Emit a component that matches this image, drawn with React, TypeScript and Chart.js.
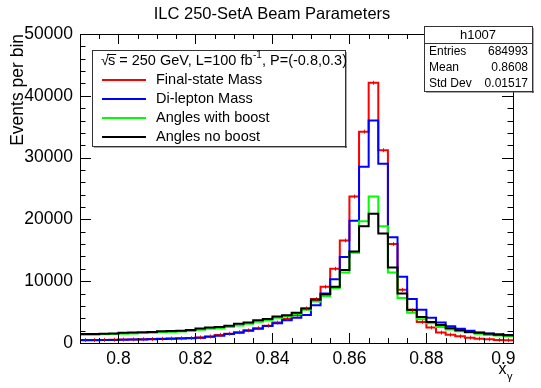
import { useEffect, useRef } from "react";
import { Chart, registerables } from "chart.js";
Chart.register(...registerables);

const FONT = '"Liberation Sans", Arial, Helvetica, sans-serif';

// histogram binning (45 bins of 0.0025 starting at 0.79)
const binLow = 0.79;
const binWidth = 0.0025;

// series values (events per bin)
const finalStateMass = [
  480, 480, 500, 520, 550, 580, 610, 640, 680, 720, 760, 800,
  900, 1050, 1300, 1500, 1750, 2050, 2400, 2800, 3300, 3900, 4500, 5600,
  7100, 9100, 12000, 16600, 23700, 34200, 42100, 31200, 16000, 8600, 5300, 3400,
  2500, 1700, 1350, 1080, 860, 700, 600, 500, 450,
];
const diLeptonMass = [
  450, 450, 470, 490, 520, 550, 580, 610, 650, 690, 720, 750,
  860, 1000, 1180, 1450, 1670, 2000, 2300, 2740, 3200, 3700, 4100, 4550,
  6100, 8000, 10300, 13900, 19800, 28500, 36000, 29000, 17100, 10700, 7100, 5400,
  4100, 3300, 2700, 2300, 2000, 1700, 1550, 1400, 1300,
];
const anglesWithBoost = [
  1350, 1350, 1400, 1450, 1500, 1550, 1600, 1650, 1750, 1800, 1850, 1950,
  2150, 2300, 2400, 2600, 2850, 3100, 3450, 3700, 4100, 4300, 4700, 5400,
  6700, 7600, 8900, 11400, 14600, 19700, 23700, 18900, 11400, 7300, 4900, 3850,
  3200, 2600, 2200, 1900, 1700, 1500, 1300, 1200, 1100,
];
const anglesNoBoost = [
  1450, 1450, 1500, 1550, 1650, 1700, 1750, 1800, 1900, 1950, 2000, 2100,
  2350, 2500, 2600, 2800, 3100, 3300, 3700, 3900, 4300, 4500, 4900, 5600,
  7000, 7900, 9100, 11800, 14800, 18900, 20900, 17700, 12200, 8000, 5400, 4200,
  3400, 2900, 2400, 2050, 1800, 1650, 1500, 1350, 1250,
];

const seriesLabels = ["Final-state Mass", "Di-lepton Mass", "Angles with boost", "Angles no boost"];
const seriesColors = ["#ff0000", "#0000ff", "#00ff00", "#000000"];

const xTickValues = [0.8, 0.82, 0.84, 0.86, 0.88, 0.9];
const yTickValues = [0, 10000, 20000, 30000, 40000, 50000];
const xMinorStep = 0.005;
const yMinorStep = 2000;

const titleText = "ILC 250-SetA Beam Parameters";
const yTitle = "Events per bin";
const statsName = "h1007";
const statsRows: [string, string][] = [
  ["Entries", "684993"],
  ["Mean", "0.8608"],
  ["Std Dev", "0.01517"],
];

const nBins = finalStateMass.length;
const xMax = binLow + nBins * binWidth;

function toPoints(values: number[]) {
  const pts = values.map((v, i) => ({ x: binLow + i * binWidth, y: v }));
  pts.push({ x: xMax, y: values[values.length - 1] });
  return pts;
}

const decorPlugin = {
  id: "rootDecor",
  afterDatasetsDraw(chart: any) {
    const ctx = chart.ctx as CanvasRenderingContext2D;
    const xs = chart.scales.x;
    const ys = chart.scales.y;
    // small error marks on the first series
    ctx.save();
    ctx.strokeStyle = "rgba(200,0,0,0.8)";
    ctx.lineWidth = 1;
    finalStateMass.forEach((v, i) => {
      const cx = Math.round(xs.getPixelForValue(binLow + (i + 0.5) * binWidth)) + 0.5;
      const cy = ys.getPixelForValue(v);
      ctx.beginPath();
      ctx.moveTo(cx, cy - 2);
      ctx.lineTo(cx, cy + 2);
      ctx.stroke();
    });
    ctx.restore();
  },
  afterDraw(chart: any) {
    const ctx = chart.ctx as CanvasRenderingContext2D;
    const { left, right, top, bottom } = chart.chartArea;
    const xs = chart.scales.x;
    const ys = chart.scales.y;
    ctx.save();
    // frame
    ctx.strokeStyle = "#000";
    ctx.lineWidth = 1;
    ctx.strokeRect(Math.round(left) + 0.5, Math.round(top) + 0.5, Math.round(right - left), Math.round(bottom - top));
    // x ticks
    const nMinX = Math.round((xMax - binLow) / xMinorStep);
    for (let k = 0; k <= nMinX; k++) {
      const v = binLow + k * xMinorStep;
      if (v > xMax + 1e-9) break;
      const major = xTickValues.some((t) => Math.abs(t - v) < 1e-6);
      const len = major ? 10 : 5;
      const px = Math.round(xs.getPixelForValue(v)) + 0.5;
      ctx.beginPath();
      ctx.moveTo(px, bottom);
      ctx.lineTo(px, bottom - len);
      ctx.moveTo(px, top);
      ctx.lineTo(px, top + len);
      ctx.stroke();
    }
    // y ticks
    for (let v = 0; v <= 50000; v += yMinorStep) {
      const major = yTickValues.includes(v);
      const len = major ? 11 : 5.5;
      const py = Math.round(ys.getPixelForValue(v)) + 0.5;
      ctx.beginPath();
      ctx.moveTo(left, py);
      ctx.lineTo(left + len, py);
      ctx.moveTo(right, py);
      ctx.lineTo(right - len, py);
      ctx.stroke();
    }
    // title
    ctx.fillStyle = "#000";
    ctx.font = `16.5px ${FONT}`;
    ctx.textAlign = "center";
    ctx.textBaseline = "middle";
    ctx.fillText(titleText, 272, 14);

    // x axis title x_gamma
    ctx.font = `16px ${FONT}`;
    ctx.textAlign = "left";
    ctx.fillText("x", 498.5, 370);
    ctx.font = `11px ${FONT}`;
    ctx.fillText("\u03b3", 507, 377);

    // legend box
    const lx = 92, ly = 50, lw = 253, lh = 96;
    ctx.fillStyle = "#fff";
    ctx.fillRect(lx, ly, lw, lh);
    ctx.fillStyle = "#555";
    ctx.fillRect(lx + lw, ly + 2, 1.5, lh);
    ctx.fillRect(lx + 2, ly + lh, lw, 1.5);
    ctx.strokeStyle = "#333";
    ctx.strokeRect(lx + 0.5, ly + 0.5, lw, lh);
    // legend header
    ctx.fillStyle = "#000";
    ctx.textAlign = "left";
    ctx.textBaseline = "middle";
    const hy = 61;
    let hx = 101;
    ctx.font = `14.5px ${FONT}`;
    ctx.fillText("\u221a", hx, hy);
    hx += ctx.measureText("\u221a").width - 1;
    const sW = ctx.measureText("s").width;
    ctx.fillText("s", hx, hy);
    ctx.beginPath();
    ctx.moveTo(hx - 1, hy - 6.5);
    ctx.lineTo(hx + sW + 1, hy - 6.5);
    ctx.strokeStyle = "#000";
    ctx.stroke();
    hx += sW;
    const part1 = " = 250 GeV, L=100 fb";
    ctx.fillText(part1, hx, hy);
    hx += ctx.measureText(part1).width;
    ctx.font = `10px ${FONT}`;
    ctx.fillText("-1", hx + 0.5, hy - 6);
    hx += ctx.measureText("-1").width + 0.5;
    ctx.font = `14.5px ${FONT}`;
    ctx.fillText(", P=(-0.8,0.3)", hx, hy);
    // legend entries
    seriesLabels.forEach((lab, i) => {
      const y = 80 + i * 19;
      ctx.strokeStyle = seriesColors[i];
      ctx.lineWidth = 2;
      ctx.beginPath();
      ctx.moveTo(102, y);
      ctx.lineTo(146, y);
      ctx.stroke();
      ctx.fillStyle = "#000";
      ctx.fillText(lab, 156, y);
    });

    // stats box
    const sx = 424, sy = 26, sw = 108, sh = 65;
    ctx.lineWidth = 1;
    ctx.fillStyle = "#fff";
    ctx.fillRect(sx, sy, sw, sh);
    ctx.fillStyle = "#555";
    ctx.fillRect(sx + sw, sy + 2, 1.5, sh);
    ctx.fillRect(sx + 2, sy + sh, sw, 1.5);
    ctx.strokeStyle = "#333";
    ctx.strokeRect(sx + 0.5, sy + 0.5, sw, sh);
    ctx.beginPath();
    ctx.moveTo(sx, sy + 17.5);
    ctx.lineTo(sx + sw, sy + 17.5);
    ctx.stroke();
    ctx.fillStyle = "#000";
    ctx.font = `13px ${FONT}`;
    ctx.textAlign = "center";
    ctx.fillText(statsName, sx + sw / 2, sy + 9.5);
    ctx.font = `12px ${FONT}`;
    statsRows.forEach(([k, v], i) => {
      const y = sy + 26 + i * 15.7;
      ctx.textAlign = "left";
      ctx.fillText(k, sx + 5, y);
      ctx.textAlign = "right";
      ctx.fillText(v, sx + sw - 4, y);
    });
    ctx.restore();
  },
};

export default function App() {
  const ref = useRef<HTMLCanvasElement | null>(null);
  useEffect(() => {
    if (!ref.current) return;
    const data = [finalStateMass, diLeptonMass, anglesWithBoost, anglesNoBoost];
    const chart = new Chart(ref.current, {
      type: "line",
      data: {
        datasets: data.map((vals, i) => ({
          label: seriesLabels[i],
          data: toPoints(vals),
          borderColor: seriesColors[i],
          backgroundColor: seriesColors[i],
          borderWidth: 2,
          pointRadius: 0,
          stepped: "before" as const,
          fill: false,
          order: 4 - i,
        })),
      },
      options: {
        animation: false,
        responsive: false,
        devicePixelRatio: 1,
        layout: { padding: { top: 34, right: 28, left: 0, bottom: 0 } },
        plugins: {
          legend: { display: false },
          tooltip: { enabled: false },
          title: { display: false },
        },
        scales: {
          x: {
            type: "linear",
            min: binLow,
            max: xMax,
            grid: { display: false, drawTicks: false },
            border: { display: false },
            afterBuildTicks: (s: any) => {
              s.ticks = xTickValues.map((v) => ({ value: v }));
            },
            afterFit: (s: any) => {
              s.height = 45;
            },
            ticks: {
              padding: 6,
              color: "#000",
              autoSkip: false,
              maxRotation: 0,
              font: { family: FONT, size: 17.5 },
              callback: (v: any) => String(parseFloat(Number(v).toFixed(3))),
            },
          },
          y: {
            min: 0,
            max: 50000,
            grid: { display: false, drawTicks: false },
            border: { display: false },
            afterBuildTicks: (s: any) => {
              s.ticks = yTickValues.map((v) => ({ value: v }));
            },
            afterFit: (s: any) => {
              s.width = 80;
            },
            ticks: {
              padding: 7,
              color: "#000",
              font: { family: FONT, size: 17.5 },
              callback: (v: any) => String(v),
            },
            title: {
              display: true,
              text: yTitle,
              align: "end",
              color: "#000",
              font: { family: FONT, size: 17.5 },
              padding: { top: 8, bottom: 0 },
            },
          },
        },
      },
      plugins: [decorPlugin],
    });
    return () => chart.destroy();
  }, []);
  return (
    <div style={{ position: "absolute", left: 0, top: 0 }}>
      <canvas ref={ref} width={541} height={388} style={{ display: "block", width: 541, height: 388 }} />
    </div>
  );
}
